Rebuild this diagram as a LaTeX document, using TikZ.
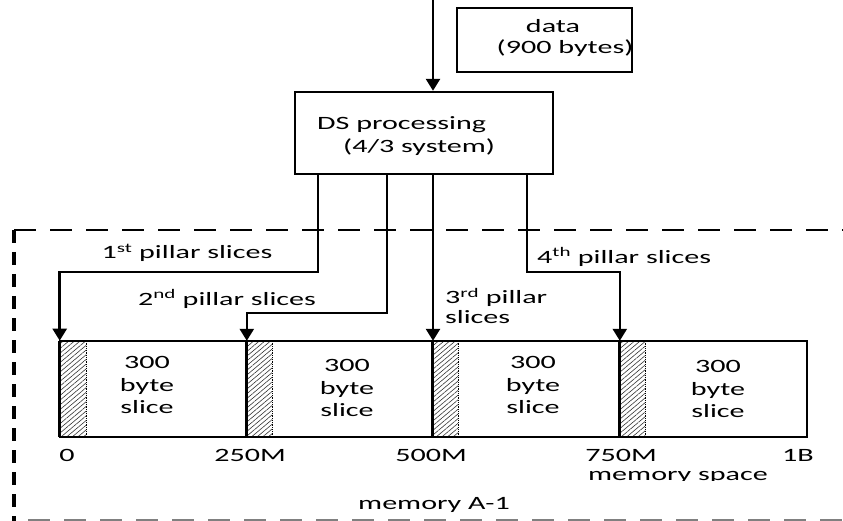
\documentclass[tikz,border=0pt]{standalone}
\usepackage{fontspec}
\setmainfont[FakeStretch=1.6]{Carlito}
\usetikzlibrary{arrows.meta,patterns.meta}
\begin{document}
\begin{tikzpicture}[x=1pt,y=-1pt,
  lbl/.style={font=\fontsize{18.8}{22.5}\selectfont, inner sep=0pt, align=center},
  lbltwo/.style={font=\fontsize{18.8}{20}\selectfont, inner sep=0pt, align=left},
  conn/.style={line width=2.6pt, -{Triangle[width=14pt,length=12pt]}},
  boxed/.style={draw, line width=2.4pt, inner sep=0pt},
  hatchbox/.style={pattern={Lines[angle=40, distance=3.6pt, line width=0.6pt]}, pattern color=black!80, inner sep=0pt, minimum height=96pt},
  edge/.style={line width=2.8pt},
  border/.style={line width=2.7pt},
]
\useasboundingbox (0,0) rectangle (843,521);

% dashed memory region
\draw[border, dash pattern=on 22pt off 14pt] (14,230) -- (843,230);
\draw[line width=3.2pt, dash pattern=on 13pt off 9pt] (14,230) -- (14,521);
\draw[gray, line width=1.6pt, dash pattern=on 22pt off 14pt] (28,520) -- (843,520);

% boxes
\node[boxed, minimum width=258pt, minimum height=82pt] (ds) at (424,133) {};
\node[lbl, anchor=west] (dst1) at (317,125) {DS processing};
\node[lbl, anchor=west] (dst2) at (343,147) {(4/3 system)};

\node[boxed, minimum width=175pt, minimum height=64pt] (data) at (544.5,40) {};
\node[lbl] (datat1) at (553,26) {data};
\node[lbl] (datat2) at (565,48) {(900 bytes)};

% memory bar
\node[hatchbox, minimum width=26pt] (h1) at (73,389) {};
\node[hatchbox, minimum width=25pt] (h2) at (259.5,389) {};
\node[hatchbox, minimum width=25pt] (h3) at (445.5,389) {};
\node[hatchbox, minimum width=25pt] (h4) at (632.5,389) {};
\node[boxed, minimum width=747pt, minimum height=96pt] (mem) at (433.5,389) {};
\foreach \h in {h1,h2,h3,h4}{
  \draw[edge] (\h.north west) -- (\h.south west);
  \draw[densely dotted, line width=0.8pt] (\h.north east) -- (\h.south east);
}

% input arrow
\coordinate (in) at (433,0);
\draw[conn] (in) -- (in |- ds.north);

% pillar connectors
\coordinate (o1) at (318,174);
\coordinate (o2) at (387,174);
\coordinate (o3) at (433,174);
\coordinate (o4) at (527,174);
\draw[conn] (o1) -- (318,272) -| (h1.north west);
\draw[conn] (o2) -- (387,313) -| (h2.north west);
\draw[conn] (o3) -- (o3 |- h3.north west);
\draw[conn] (o4) -- (527,272) -| (h4.north west);

% pillar labels
\node[lbl] (p1) at (187,253) {1\textsuperscript{st} pillar slices};
\node[lbl] (p2) at (227,299) {2\textsuperscript{nd} pillar slices};
\node[lbltwo, anchor=north west] (p3) at (445,288) {3\textsuperscript{rd} pillar\\slices};
\node[lbl, anchor=west] (p4) at (537,257) {4\textsuperscript{th} pillar slices};

% slice texts
\node[lbl] (s1) at (147,385) {300\\byte\\slice};
\node[lbl] (s2) at (347,388) {300\\byte\\slice};
\node[lbl] (s3) at (533,385) {300\\byte\\slice};
\node[lbl] (s4) at (718,389) {300\\byte\\slice};

% axis labels
\node[lbl] (a0) at (67,455) {0};
\node[lbl] (a1) at (250,455) {250M};
\node[lbl] (a2) at (431,455) {500M};
\node[lbl] (a3) at (621,455) {750M};
\node[lbl] (a4) at (798,455) {1B};
\begin{scope}
  \clip (580,462) rectangle (780,480.5);
  \node[lbl] (ms) at (678,477) {memory space};
\end{scope}
\node[lbl] (ma) at (434,505) {memory A-1};
\end{tikzpicture}
\end{document}
